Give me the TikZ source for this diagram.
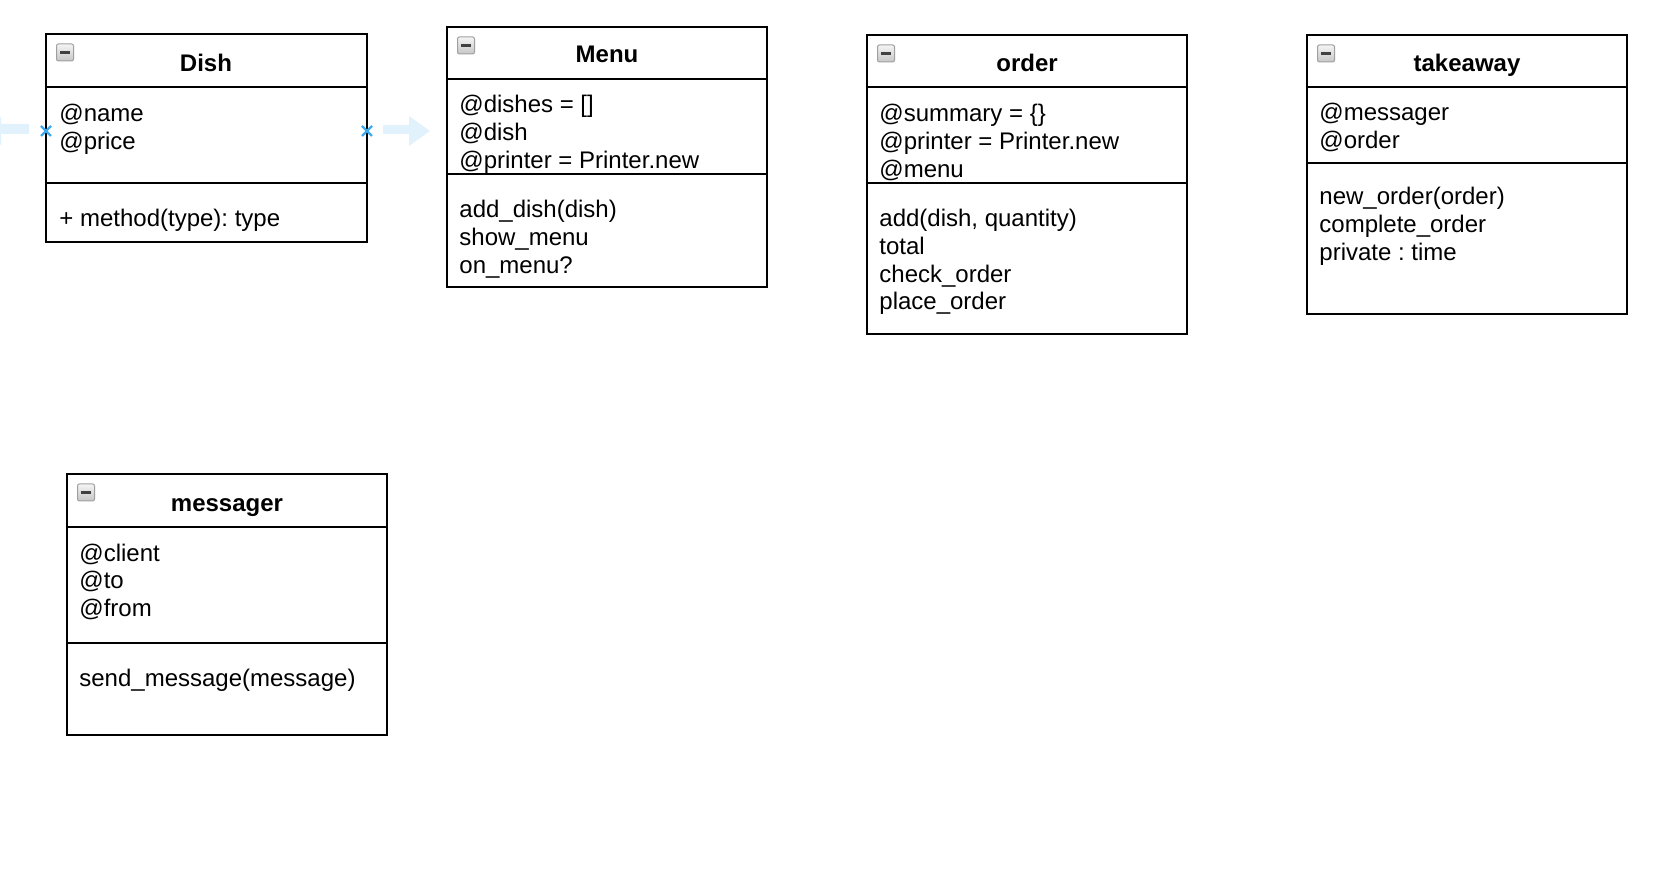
\documentclass[tikz,border=0pt]{standalone}
\usepackage{fontspec}
\setmainfont{Liberation Sans}
\frenchspacing
\definecolor{hintblue}{HTML}{E2F2FC}
\definecolor{xblue}{HTML}{3FA9EE}
\begin{document}
\frenchspacing
\begin{tikzpicture}[x=0.5pt,y=-0.5pt,
  classbox/.style={draw=black, line width=1pt, fill=white, inner sep=0pt, outer sep=0pt, anchor=north west},
  sepline/.style={line width=1pt},
  titletext/.style={font=\fontsize{12}{13.8}\selectfont\bfseries, inner sep=0pt, anchor=base},
  txt/.style={font=\fontsize{12}{13.8}\selectfont\frenchspacing, inner sep=0pt, align=left, anchor=base west},
  iconbox/.style={draw=gray!75, line width=0.5pt, rounded corners=1pt, top color=gray!8, bottom color=gray!45, minimum size=8.5pt, inner sep=0pt},
  iconminus/.style={line width=1.3pt, black!75},
  hint/.style={fill=hintblue, draw=none},
  xmark/.style={draw=xblue, line width=1.1pt}
]
\useasboundingbox (0,0) rectangle (1668,870);

% hover hint arrows
\fill[hint] (29,124) -- (1,124) -- (1,117) -- (-20,131) -- (1,145) -- (1,134) -- (29,134) -- cycle;
\fill[hint] (383,125) -- (409,125) -- (409,116) -- (430,131) -- (409,146) -- (409,134) -- (383,134) -- cycle;

% (multi-line text nodes are anchored at the baseline of their last line)

% ---------- Dish ----------
\node[classbox, minimum width=160.5pt, minimum height=104pt] (dish) at (46,34) {};
\draw[sepline] (dish.west |- 0,87) -- (dish.east |- 0,87);
\draw[sepline] (dish.west |- 0,183) -- (dish.east |- 0,183);
\node[iconbox] (dishicon) at (65,52.5) {};
\draw[iconminus] ([xshift=-2.6pt]dishicon.center) -- ([xshift=2.6pt]dishicon.center);
\node[titletext] (dishtitle) at (206,72) {Dish};
\node[txt] (dishattr) at (59,149.6) {@name\\@price};
\node[txt] (dishmeth) at (59,227) {+ method(type): type};

% ---------- Menu ----------
\node[classbox, minimum width=160pt, minimum height=130pt] (menu) at (447,27) {};
\draw[sepline] (menu.west |- 0,79) -- (menu.east |- 0,79);
\draw[sepline] (menu.west |- 0,174) -- (menu.east |- 0,174);
\node[iconbox] (menuicon) at (466,45.5) {};
\draw[iconminus] ([xshift=-2.6pt]menuicon.center) -- ([xshift=2.6pt]menuicon.center);
\node[titletext] (menutitle) at (607,63) {Menu};
\node[txt] (menuattr) at (459,168.2) {@dishes = {[]}\\@dish\\@printer = Printer.new};
\node[txt] (menumeth) at (459,273.2) {add\_dish(dish)\\show\_menu\\on\_menu?};

% ---------- order ----------
\node[classbox, minimum width=160pt, minimum height=149.5pt] (order) at (867,35) {};
\draw[sepline] (order.west |- 0,87) -- (order.east |- 0,87);
\draw[sepline] (order.west |- 0,183) -- (order.east |- 0,183);
\node[iconbox] (ordericon) at (886,53.5) {};
\draw[iconminus] ([xshift=-2.6pt]ordericon.center) -- ([xshift=2.6pt]ordericon.center);
\node[titletext] (ordertitle) at (1027,72) {order};
\node[txt] (orderattr) at (879,177.2) {@summary = \{\}\\@printer = Printer.new\\@menu};
\node[txt] (ordermeth) at (879,309.8) {add(dish, quantity)\\total\\check\_order\\place\_order};

% ---------- takeaway ----------
\node[classbox, minimum width=160pt, minimum height=139.5pt] (takeaway) at (1307,35) {};
\draw[sepline] (takeaway.west |- 0,87) -- (takeaway.east |- 0,87);
\draw[sepline] (takeaway.west |- 0,163) -- (takeaway.east |- 0,163);
\node[iconbox] (takeawayicon) at (1326,53.5) {};
\draw[iconminus] ([xshift=-2.6pt]takeawayicon.center) -- ([xshift=2.6pt]takeawayicon.center);
\node[titletext] (takeawaytitle) at (1467,72) {takeaway};
\node[txt] (takeawayattr) at (1319,148.6) {@messager\\@order};
\node[txt] (takeawaymeth) at (1319,260.2) {new\_order(order)\\complete\_order\\private : time};

% ---------- messager ----------
\node[classbox, minimum width=160pt, minimum height=130.5pt] (messager) at (67,474) {};
\draw[sepline] (messager.west |- 0,527) -- (messager.east |- 0,527);
\draw[sepline] (messager.west |- 0,643) -- (messager.east |- 0,643);
\node[iconbox] (messagericon) at (86,492.5) {};
\draw[iconminus] ([xshift=-2.6pt]messagericon.center) -- ([xshift=2.6pt]messagericon.center);
\node[titletext] (messagertitle) at (227,512) {messager};
\node[txt] (messagerattr) at (79,616.2) {@client\\@to\\@from};
\node[txt] (messagermeth) at (79,686) {send\_message(message)};

% connection point markers
\coordinate (dishW) at (dish.west |- 0,131);
\coordinate (dishE) at (dish.east |- 0,131);
\draw[xmark] ([shift={(-5,-5)}]dishW) -- ([shift={(5,5)}]dishW) ([shift={(-5,5)}]dishW) -- ([shift={(5,-5)}]dishW);
\draw[xmark] ([shift={(-5,-5)}]dishE) -- ([shift={(5,5)}]dishE) ([shift={(-5,5)}]dishE) -- ([shift={(5,-5)}]dishE);
\end{tikzpicture}
\end{document}
